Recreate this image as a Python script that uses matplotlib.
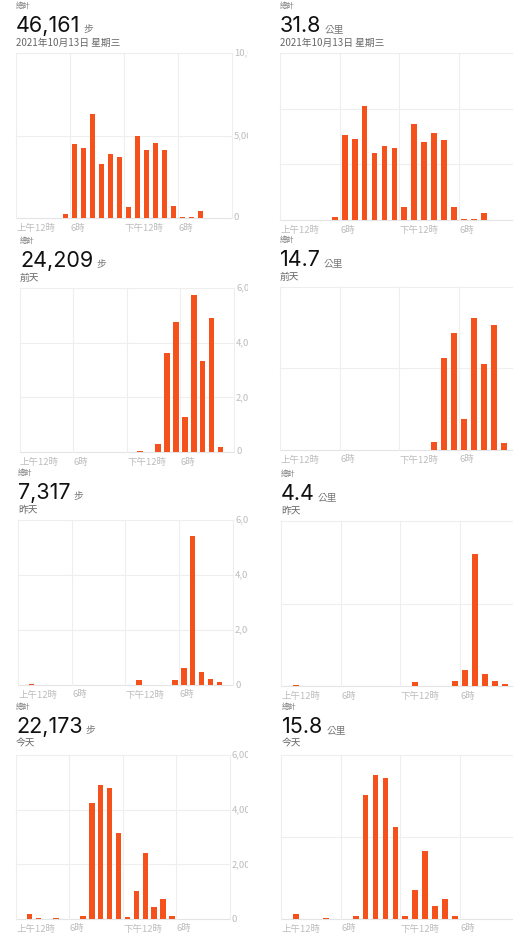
import matplotlib
matplotlib.use('Agg')
import matplotlib.pyplot as plt
import numpy as np
from matplotlib.transforms import Bbox, TransformedBbox

# hourly values (index = hour 0..23)
hours = np.arange(24)
steps_1013 = [0, 0, 0, 0, 0, 240, 4500, 4260, 6300, 3300, 3900, 3700,
              660, 4940, 4100, 4540, 4100, 700, 80, 80, 400, 0, 0, 0]
km_1013 = [0, 0, 0, 0, 0, 0.12, 3.05, 2.91, 4.10, 2.42, 2.67, 2.59,
           0.46, 3.46, 2.80, 3.14, 2.89, 0.47, 0.03, 0.04, 0.26, 0, 0, 0]
steps_prev2 = [0, 0, 0, 0, 0, 0, 0, 0, 0, 0, 0, 0,
               0, 25, 0, 307, 3620, 4760, 1290, 5755, 3340, 4900, 184, 0]
km_prev2 = [0, 0, 0, 0, 0, 0, 0, 0, 0, 0, 0, 0,
            0, 0.01, 0, 0.19, 2.25, 2.88, 0.75, 3.24, 2.11, 3.07, 0.16, 0]
steps_yest = [0, 25, 0, 0, 0, 0, 0, 0, 0, 0, 0, 5,
              0, 182, 0, 0, 0, 182, 606, 5418, 473, 230, 121, 0]
km_yest = [0, 0.02, 0, 0, 0, 0, 0, 0, 0, 0, 0, 0.005,
           0, 0.105, 0, 0, 0, 0.113, 0.389, 3.21, 0.29, 0.13, 0.057, 0]
steps_today = [0, 170, 25, 0, 35, 0, 0, 110, 4230, 4900, 4790, 3130,
               85, 1025, 2400, 427, 720, 98, 0, 0, 0, 0, 0, 0]
km_today = [0, 0.12, 0.01, 0, 0.02, 0, 0, 0.08, 3.03, 3.51, 3.45, 2.24,
            0.065, 0.71, 1.67, 0.31, 0.49, 0.08, 0, 0, 0, 0, 0, 0]

totals = ['46,161', '31.8', '24,209', '14.7', '7,317', '4.4', '22,173', '15.8']
units = ['步', '公里'] * 4
subtitles = ['2021年10月13日 星期三', '2021年10月13日 星期三', '前天', '前天',
             '昨天', '昨天', '今天', '今天']
xtick_hours = [0, 6, 12, 18]
xtick_labels = ['上午12時', '6時', '下午12時', '6時']
step_ticks_big = [0, 5000, 10000]
step_ticks = [0, 2000, 4000, 6000]
km_ticks_big = [0, 2, 4, 6]
km_ticks = [0, 2, 4]

series = [steps_1013, km_1013, steps_prev2, km_prev2,
          steps_yest, km_yest, steps_today, km_today]
yticks = [step_ticks_big, km_ticks_big, step_ticks, km_ticks,
          step_ticks, km_ticks, step_ticks, km_ticks]

# pixel layout of each screenshot: left, right, top, zero line, header x, baseline of total
layout = [
    (16, 232, 53, 218, 16, 32), (280, 512, 53, 220, 280, 32),
    (19.5, 234, 288, 452, 20, 267), (280, 512, 287, 450, 280, 266),
    (18, 233, 520, 685, 18, 499), (281, 512, 521, 686, 281, 500),
    (16, 230, 755, 919, 16, 733), (281, 512, 755, 919, 282, 733),
]

W, H = 526, 935
plt.rcParams['font.family'] = ['Noto Sans CJK TC', 'DejaVu Sans']
fig = plt.figure(figsize=(W / 100, H / 100), dpi=100)
renderer = fig.canvas.get_renderer()

ORANGE = '#F5511D'
GRID = '#EEEEEE'
TICK = '#BDBDBD'


def fx(x):
    return x / W


def fy(y):
    return 1 - y / H


label_clip = TransformedBbox(Bbox([[0, 0], [248 / W, 1]]), fig.transFigure)

for i, (vals, ticks, lay) in enumerate(zip(series, yticks, layout)):
    l, r, top, zero, hx, base = lay
    right_side = i % 2 == 1
    hour_px = 9.95 if right_side else (r - l) / 24
    xmax = (r - l) / hour_px
    ax = fig.add_axes([fx(l), fy(zero), fx(r - l), (zero - top) / H])
    ax.set_xlim(0, xmax)
    ax.set_ylim(0, ticks[-1])
    ax.axis('off')

    for t in ticks:
        ax.axhline(t, color='#E4E4E4' if t == 0 else GRID, lw=0.8,
                   clip_on=False, zorder=0)
    for h in [0, 6, 12, 18, 24]:
        if h <= xmax:
            ax.axvline(h, color=GRID, lw=0.8, clip_on=False, zorder=0)

    bw = 0.58 if right_side else 0.62
    ax.bar(hours + 0.5, vals, width=bw, color=ORANGE, zorder=2)

    for h, lab in zip(xtick_hours, xtick_labels):
        ax.annotate(lab, xy=(h, 0), xycoords=('data', 'axes fraction'),
                    xytext=(0.5, -10), textcoords='offset pixels',
                    ha='left', va='center', fontsize=6.8, color=TICK)

    if not right_side:
        for t in ticks:
            txt = ax.annotate(f'{t:,}', xy=(1, t), xycoords=('axes fraction', 'data'),
                              xytext=(2, 0), textcoords='offset pixels',
                              ha='left', va='center', fontsize=6.8, color=TICK,
                              annotation_clip=False)
            txt.set_clip_box(label_clip)
            txt.set_clip_on(True)

    # header texts
    fig.text(fx(hx), fy(base - 26), '總計', fontsize=5.3, color='#7a7a7a',
             ha='left', va='center')
    num = fig.text(fx(hx), fy(base), totals[i], fontsize=15.5, color='#111111',
                   family=['Inter', 'DejaVu Sans'], ha='left', va='baseline')
    bb = num.get_window_extent(renderer)
    fig.text((bb.x1 + 3) / W, fy(base), units[i], fontsize=7, color='#777777',
             ha='left', va='baseline')
    fig.text(fx(hx), fy(base + 11), subtitles[i], fontsize=7, color='#666666',
             ha='left', va='center')

fig.savefig('out.png', dpi=100, facecolor='white')
